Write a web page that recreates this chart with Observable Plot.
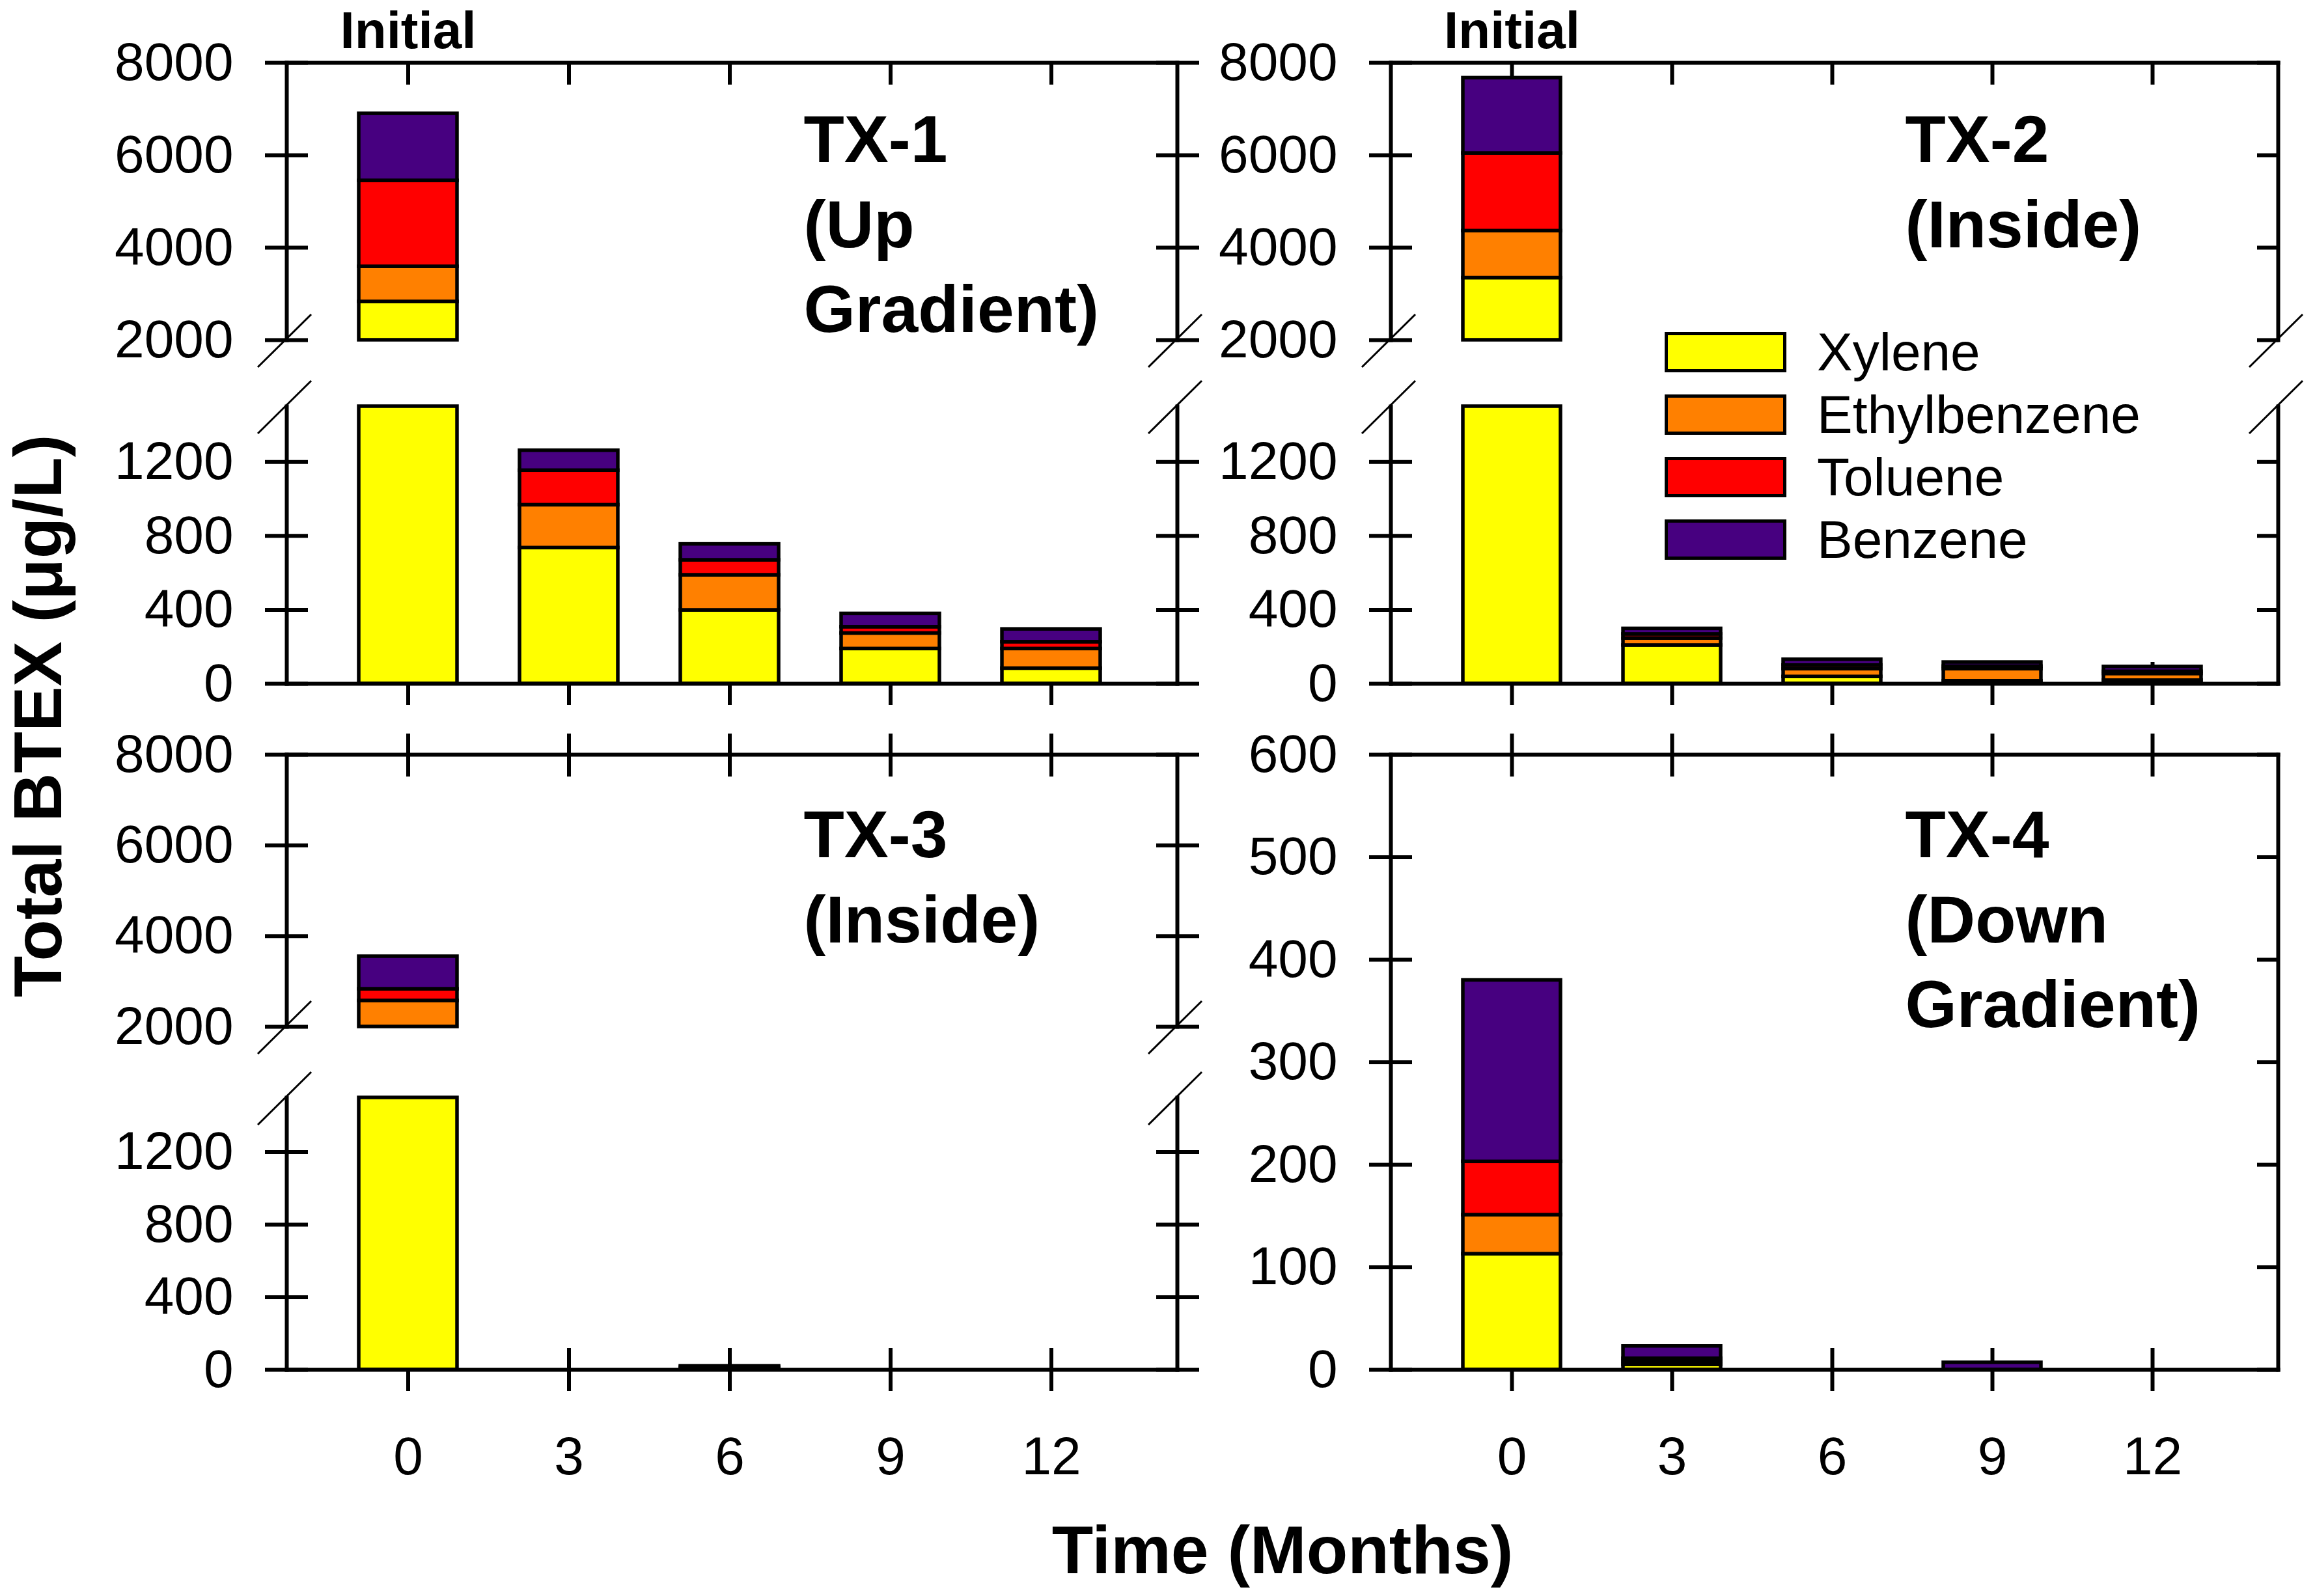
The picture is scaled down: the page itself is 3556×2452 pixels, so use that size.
<!DOCTYPE html>
<html><head><meta charset="utf-8">
<script src="https://cdn.jsdelivr.net/npm/d3@7"></script>
<script src="https://cdn.jsdelivr.net/npm/@observablehq/plot@0.6"></script>
<style>
html,body{margin:0;padding:0;background:#fff;}
#chart{position:relative;width:3556px;height:2452px;overflow:hidden;font-family:"Liberation Sans",Arial,sans-serif;background:#fff;}
#chart svg{position:absolute;max-width:none;}
.title{position:absolute;font-weight:bold;font-size:104px;line-height:1;white-space:nowrap;color:#000;transform-origin:center center;}
.legend{position:absolute;left:2557px;top:510px;}
.legend .row{position:absolute;left:0;height:62px;white-space:nowrap;}
.legend .sw{position:absolute;left:0;top:0;width:187px;height:62px;box-sizing:border-box;border:5.5px solid #000;}
.legend .lb{position:absolute;left:234px;top:31px;transform:translateY(-50%);font-size:82px;line-height:1;color:#000;}
</style></head><body><div id="chart"></div>
<script>
// ---------------- data ----------------
const months = ["0", "3", "6", "9", "12"];
const species = ["Xylene", "Ethylbenzene", "Toluene", "Benzene"];
const speciesColors = ["#ffff00", "#ff8000", "#ff0000", "#470080"];

const tx1Xylene       = [2830, 735, 398, 189, 83];
const tx1Ethylbenzene = [760, 232, 190, 84, 106];
const tx1Toluene      = [1860, 187, 81, 34, 37];
const tx1Benzene      = [1450, 108, 86, 72, 69];

const tx2Xylene       = [3345, 208, 38, 15, 18];
const tx2Ethylbenzene = [1017, 38, 42, 65, 36];
const tx2Toluene      = [1680, 22, 20, 14, 12];
const tx2Benzene      = [1630, 30, 31, 22, 26];

const tx3Xylene       = [1750, 0, 5, 0, 0];
const tx3Ethylbenzene = [824, 0, 5, 0, 0];
const tx3Toluene      = [258, 0, 3, 0, 0];
const tx3Benzene      = [718, 0, 7, 0, 0];

const tx4Xylene       = [113, 5, 0, 0, 0];
const tx4Ethylbenzene = [38, 3, 0, 0, 0];
const tx4Toluene      = [52, 3, 0, 0, 0];
const tx4Benzene      = [177, 12, 0, 7, 0];

const upperDomain = [2000, 8000];
const lowerDomain = [0, 1500];
const tx4Domain = [0, 600];
const upperTicks = [2000, 4000, 6000, 8000];
const lowerTicks = [0, 400, 800, 1200];
const tx4Ticks = [0, 100, 200, 300, 400, 500, 600];

const panelLabels = ["TX-1\n(Up\nGradient)", "TX-2\n(Inside)", "TX-3\n(Inside)", "TX-4\n(Down\nGradient)"];
const initialLabel = "Initial";
const yTitle = "Total BTEX (\u03bcg/L)";
const xTitle = "Time (Months)";

// ---------------- helpers ----------------
function stackRows(series) {
  const rows = [];
  months.forEach((m, i) => {
    let cum = 0;
    species.forEach((s, j) => {
      const v = series[j][i];
      if (v > 0) rows.push({month: m, species: s, lo: cum, hi: cum + v});
      cum += v;
    });
  });
  return rows;
}
function clampRows(rows, [a, b]) {
  const c = v => Math.max(a, Math.min(b, v));
  return rows.map(r => ({...r, y1: c(r.lo), y2: c(r.hi)})).filter(r => r.y2 > r.y1);
}
const NS = "http://www.w3.org/2000/svg";
function breakMark(edge) {
  return (index, scales, values, dims) => {
    const g = document.createElementNS(NS, "g");
    const y = edge === "bottom" ? dims.height - dims.marginBottom : dims.marginTop;
    for (const x of [dims.marginLeft, dims.width - dims.marginRight]) {
      const l = document.createElementNS(NS, "line");
      l.setAttribute("x1", x - 44); l.setAttribute("y1", y + 42);
      l.setAttribute("x2", x + 38); l.setAttribute("y2", y - 39);
      l.setAttribute("stroke", "#000"); l.setAttribute("stroke-width", 3);
      g.appendChild(l);
    }
    return g;
  };
}
const blank = () => "";
const plain = d => String(d);
const M = {l: 260, r: 90, t: 130, b: 230};
const TICK = 33, SW = 6, FS = 82;

function panel(cfg) {
  const data = clampRows(cfg.rows, cfg.domain);
  const marks = [];
  marks.push(Plot.axisY({anchor: "left", ticks: cfg.ticks, tickSize: -TICK, tickFormat: blank, strokeWidth: SW, label: null}));
  marks.push(Plot.axisY({anchor: "right", ticks: cfg.ticks, tickSize: -TICK, tickFormat: blank, strokeWidth: SW, label: null}));
  if (cfg.top) marks.push(Plot.axisX({anchor: "top", tickSize: -TICK, tickFormat: blank, strokeWidth: SW, label: null}));
  if (cfg.bottom) marks.push(Plot.axisX({anchor: "bottom", tickSize: -TICK, tickFormat: blank, strokeWidth: SW, label: null}));
  marks.push(Plot.barY(data, {x: "month", y1: "y1", y2: "y2", fill: "species", stroke: "#000", strokeWidth: 5.5}));
  marks.push(Plot.frame({anchor: "left", strokeWidth: SW}), Plot.frame({anchor: "right", strokeWidth: SW}));
  if (cfg.top) marks.push(Plot.frame({anchor: "top", strokeWidth: SW}));
  if (cfg.bottom) marks.push(Plot.frame({anchor: "bottom", strokeWidth: SW}));
  marks.push(Plot.axisY({anchor: "left", ticks: cfg.ticks, tickSize: TICK, tickPadding: 49, tickFormat: plain, strokeWidth: SW, fontSize: FS, label: null}));
  if (cfg.rightOut) marks.push(Plot.axisY({anchor: "right", ticks: cfg.ticks, tickSize: TICK, tickFormat: blank, strokeWidth: SW, label: null}));
  if (cfg.top && cfg.topOut) marks.push(Plot.axisX({anchor: "top", tickSize: TICK, tickFormat: blank, strokeWidth: SW, label: null}));
  if (cfg.bottom) marks.push(Plot.axisX({anchor: "bottom", tickSize: TICK, tickPadding: 69, strokeWidth: SW, fontSize: FS, label: null,
    tickFormat: cfg.xLabels ? plain : blank}));
  if (cfg.breakBottom) marks.push(breakMark("bottom"));
  if (cfg.breakTop) marks.push(breakMark("top"));
  if (cfg.label) marks.push(Plot.text([cfg.label.text], {text: d => d, frameAnchor: "top-left", textAnchor: "start", lineAnchor: "top",
    dx: cfg.label.dx, dy: cfg.label.dy, fontSize: 102, fontWeight: "bold", lineHeight: 1.28}));
  if (cfg.initial) marks.push(Plot.text([{month: months[0], text: initialLabel}], {x: "month", text: "text", frameAnchor: "top",
    lineAnchor: "top", dy: -79, fontSize: 80, fontWeight: "bold"}));

  const p = Plot.plot({
    width: cfg.frame.width + M.l + M.r,
    height: cfg.frame.height + M.t + M.b,
    marginLeft: M.l, marginRight: M.r, marginTop: M.t, marginBottom: M.b,
    style: {fontFamily: "'Liberation Sans', Arial, sans-serif", fontSize: FS + "px", background: "transparent", overflow: "visible", color: "#000"},
    x: {type: "band", domain: months, paddingInner: 0.39, paddingOuter: 0.464, align: 0.483},
    y: {domain: cfg.domain},
    color: {domain: species, range: speciesColors},
    marks
  });
  p.style.left = (cfg.frame.left - M.l) + "px";
  p.style.top = (cfg.frame.top - M.t) + "px";
  document.getElementById("chart").appendChild(p);
}

const tx1 = stackRows([tx1Xylene, tx1Ethylbenzene, tx1Toluene, tx1Benzene]);
const tx2 = stackRows([tx2Xylene, tx2Ethylbenzene, tx2Toluene, tx2Benzene]);
const tx3 = stackRows([tx3Xylene, tx3Ethylbenzene, tx3Toluene, tx3Benzene]);
const tx4 = stackRows([tx4Xylene, tx4Ethylbenzene, tx4Toluene, tx4Benzene]);

// TX-1
panel({rows: tx1, domain: upperDomain, ticks: upperTicks, frame: {left: 440, top: 96, width: 1368, height: 426},
  top: true, topOut: false, rightOut: true, breakBottom: true, initial: true, label: {text: panelLabels[0], dx: 794, dy: 60}});
panel({rows: tx1, domain: lowerDomain, ticks: lowerTicks, frame: {left: 440, top: 624, width: 1368, height: 426},
  bottom: true, rightOut: true, breakTop: true, xLabels: false});
// TX-2
panel({rows: tx2, domain: upperDomain, ticks: upperTicks, frame: {left: 2136, top: 96, width: 1363, height: 426},
  top: true, topOut: false, rightOut: false, breakBottom: true, initial: true, label: {text: panelLabels[1], dx: 790, dy: 60}});
panel({rows: tx2, domain: lowerDomain, ticks: lowerTicks, frame: {left: 2136, top: 624, width: 1363, height: 426},
  bottom: true, rightOut: false, breakTop: true, xLabels: false});
// TX-3
panel({rows: tx3, domain: upperDomain, ticks: upperTicks, frame: {left: 440, top: 1159, width: 1368, height: 418},
  top: true, topOut: true, rightOut: true, breakBottom: true, label: {text: panelLabels[2], dx: 794, dy: 65}});
panel({rows: tx3, domain: lowerDomain, ticks: lowerTicks, frame: {left: 440, top: 1686, width: 1368, height: 418},
  bottom: true, rightOut: true, breakTop: true, xLabels: true});
// TX-4
panel({rows: tx4, domain: tx4Domain, ticks: tx4Ticks, frame: {left: 2136, top: 1159, width: 1363, height: 945},
  top: true, topOut: true, bottom: true, rightOut: false, xLabels: true, label: {text: panelLabels[3], dx: 790, dy: 65}});

// titles
const chart = document.getElementById("chart");
const yt = document.createElement("div");
yt.className = "title"; yt.textContent = yTitle;
yt.style.left = "58px"; yt.style.top = "1100px";
yt.style.transform = "translate(-50%,-50%) rotate(-90deg)";
chart.appendChild(yt);
const xt = document.createElement("div");
xt.className = "title"; xt.textContent = xTitle;
xt.style.left = "1970px"; xt.style.top = "2381px";
xt.style.transform = "translate(-50%,-50%)";
chart.appendChild(xt);

// legend
const lg = document.createElement("div");
lg.className = "legend";
species.forEach((s, i) => {
  const row = document.createElement("div");
  row.className = "row"; row.style.top = (i * 96) + "px";
  const sw = document.createElement("div"); sw.className = "sw"; sw.style.background = speciesColors[i];
  const lb = document.createElement("div"); lb.className = "lb"; lb.textContent = s;
  row.appendChild(sw); row.appendChild(lb); lg.appendChild(row);
});
chart.appendChild(lg);
</script>
</body></html>
